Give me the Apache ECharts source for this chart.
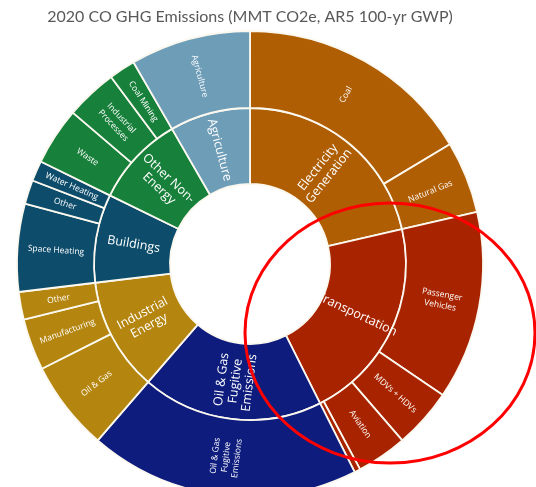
<!DOCTYPE html>
<html>
<head>
<meta charset="utf-8">
<script src="https://cdn.jsdelivr.net/npm/echarts@6/dist/echarts.min.js"></script>
<style>
html,body{margin:0;padding:0;background:#fff;}
#chart{width:536px;height:487px;}
</style>
</head>
<body>
<div id="chart"></div>
<script>
// Sector names (inner ring) and colours
var sectors = ['Electricity\nGeneration', 'Transportation', 'Oil & Gas\nFugitive\nEmissions', 'Industrial\nEnergy', 'Buildings', 'Other Non-\nEnergy', 'Agriculture'];
var sectorColors = ['#AF5E03', '#A82400', '#0E1C7D', '#B5860F', '#0D4D6B', '#17803A', '#6E9DB8'];

// Sub-categories (outer ring) per sector, and their values (MMT CO2e)
var electricityNames = ['Coal', 'Natural Gas'];
var electricityValues = [19.7, 6.0];
var transportNames = ['Passenger\nVehicles', 'MDVs + HDVs', 'Aviation', 'Other'];
var transportValues = [15.7, 5.0, 4.2, 0.5];
var fugitiveNames = ['Oil & Gas\nFugitive\nEmissions'];
var fugitiveValues = [22.5];
var industrialNames = ['Oil & Gas', 'Manufacturing', 'Other'];
var industrialValues = [7.5, 4.3, 2.3];
var buildingNames = ['Space Heating', 'Other', 'Water Heating'];
var buildingValues = [7.3, 2.0, 1.7];
var nonEnergyNames = ['Waste', 'Industrial\nProcesses', 'Coal Mining'];
var nonEnergyValues = [4.8, 4.3, 2.2];
var agricultureNames = ['Agriculture'];
var agricultureValues = [10.0];

var childNames = [electricityNames, transportNames, fugitiveNames, industrialNames, buildingNames, nonEnergyNames, agricultureNames];
var childValues = [electricityValues, transportValues, fugitiveValues, industrialValues, buildingValues, nonEnergyValues, agricultureValues];

var data = sectors.map(function (s, i) {
  return {
    name: s,
    itemStyle: { color: sectorColors[i] },
    children: childNames[i].map(function (n, j) {
      var v = childValues[i][j];
      var item = { name: n, value: v, itemStyle: { color: sectorColors[i] } };
      if (v < 1) item.label = { show: false };
      return item;
    })
  };
});

var chart = echarts.init(document.getElementById('chart'));
chart.setOption({
  animation: false,
  title: {
    text: '2020 CO GHG Emissions (MMT CO2e, AR5 100-yr GWP)',
    left: 245,
    textAlign: 'center',
    top: 4,
    textStyle: { fontFamily: 'Lato', fontSize: 16, fontWeight: 'normal', color: '#595959' }
  },
  series: [{
    type: 'sunburst',
    center: [250, 264],
    radius: [80, 233],
    sort: null,
    nodeClick: false,
    startAngle: 90,
    data: data,
    itemStyle: { borderColor: '#fbf8ef', borderWidth: 1.8 },
    label: { rotate: 'radial', color: '#ffffff', fontFamily: 'Open Sans' },
    levels: [
      {},
      { r0: 80, r: 156, label: { fontSize: 12.5, lineHeight: 14 } },
      { r0: 156, r: 233, label: { fontSize: 8.5, lineHeight: 11 } }
    ]
  }],
  graphic: [{
    type: 'ellipse',
    shape: { cx: 390, cy: 333, rx: 145, ry: 130 },
    style: { fill: 'none', stroke: '#FF0000', lineWidth: 3 },
    z: 100
  }]
});
</script>
</body>
</html>
